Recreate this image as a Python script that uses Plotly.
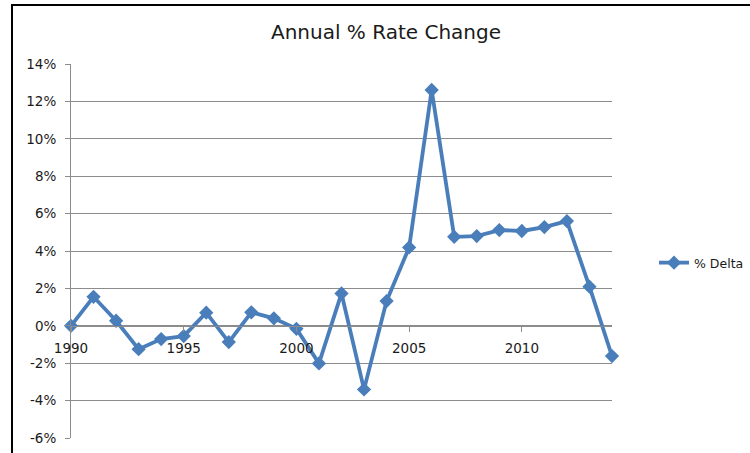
import plotly.graph_objects as go

years = list(range(1990, 2015))
delta = [0.0, 1.55, 0.27, -1.25, -0.71, -0.55, 0.70, -0.87, 0.72, 0.40,
         -0.16, -2.01, 1.73, -3.40, 1.32, 4.19, 12.61, 4.76, 4.80, 5.12,
         5.07, 5.28, 5.60, 2.09, -1.62]
delta_frac = [v / 100 for v in delta]
series_name = "% Delta"
title_text = "Annual % Rate Change"
y_ticks = [-0.06, -0.04, -0.02, 0.0, 0.02, 0.04, 0.06, 0.08, 0.10, 0.12, 0.14]
y_ticklabels = ["-6%", "-4%", "-2%", "0%", "2%", "4%", "6%", "8%", "10%", "12%", "14%"]
x_ticks = [1990, 1995, 2000, 2005, 2010]

FONT = "'DejaVu Sans', sans-serif"
GRID = "#8c8c8c"
BLUE = "#4A7EBB"
TXT = "#1a1a1a"

fig = go.Figure()
fig.add_trace(go.Scatter(
    x=years, y=delta_frac, mode="lines+markers", name=series_name,
    line=dict(color=BLUE, width=3.8),
    marker=dict(symbol="diamond", size=11, color=BLUE),
    cliponaxis=False,
))

L, R, T, B = 71, 138, 64, 15
W, H = 750, 453
pw, ph = W - L - R, H - T - B

def px_x(p):
    return (p - L) / pw

def px_y(p):
    return (H - B - p) / ph

fig.update_layout(
    width=W, height=H,
    margin=dict(l=L, r=R, t=T, b=B, pad=0),
    paper_bgcolor="white", plot_bgcolor="white",
    font=dict(family=FONT, size=13.5, color=TXT),
    title=dict(text=title_text, x=386 / W, xanchor="center",
               y=1 - 32 / H, yanchor="middle",
               font=dict(family=FONT, size=20, color=TXT)),
    showlegend=True,
    legend=dict(xref="container", yref="container",
                x=654 / W, xanchor="left", y=1 - 263 / H, yanchor="middle",
                font=dict(family=FONT, size=12.5, color=TXT),
                bgcolor="rgba(0,0,0,0)", itemwidth=30),
    xaxis=dict(range=[1990, 2014], tickvals=x_ticks, ticktext=[str(v) for v in x_ticks],
               showgrid=False, zeroline=False, showline=True, linecolor=GRID, linewidth=1,
               ticks="outside", ticklen=5, tickcolor=GRID, automargin=False,
               anchor="free", position=0.3, ticklabelstandoff=5,
               tickfont=dict(family=FONT, size=13.5, color=TXT)),
    yaxis=dict(range=[-0.06, 0.14], tickvals=y_ticks, ticktext=y_ticklabels,
               showgrid=True, gridcolor=GRID, gridwidth=1, automargin=False,
               zeroline=False, showline=True, linecolor=GRID, linewidth=1,
               ticks="outside", ticklen=5, tickcolor=GRID, ticklabelstandoff=6,
               tickfont=dict(family=FONT, size=13.5, color=TXT)),
    shapes=[
        dict(type="line", xref="paper", yref="paper",
             x0=px_x(12), x1=px_x(752), y0=px_y(5), y1=px_y(5),
             line=dict(color="black", width=2)),
        dict(type="line", xref="paper", yref="paper",
             x0=px_x(12), x1=px_x(12), y0=px_y(4), y1=px_y(455),
             line=dict(color="black", width=2)),
    ],
)

fig.write_html("out.html", config={"displayModeBar": False},
               post_script="document.body.style.margin='0';")
